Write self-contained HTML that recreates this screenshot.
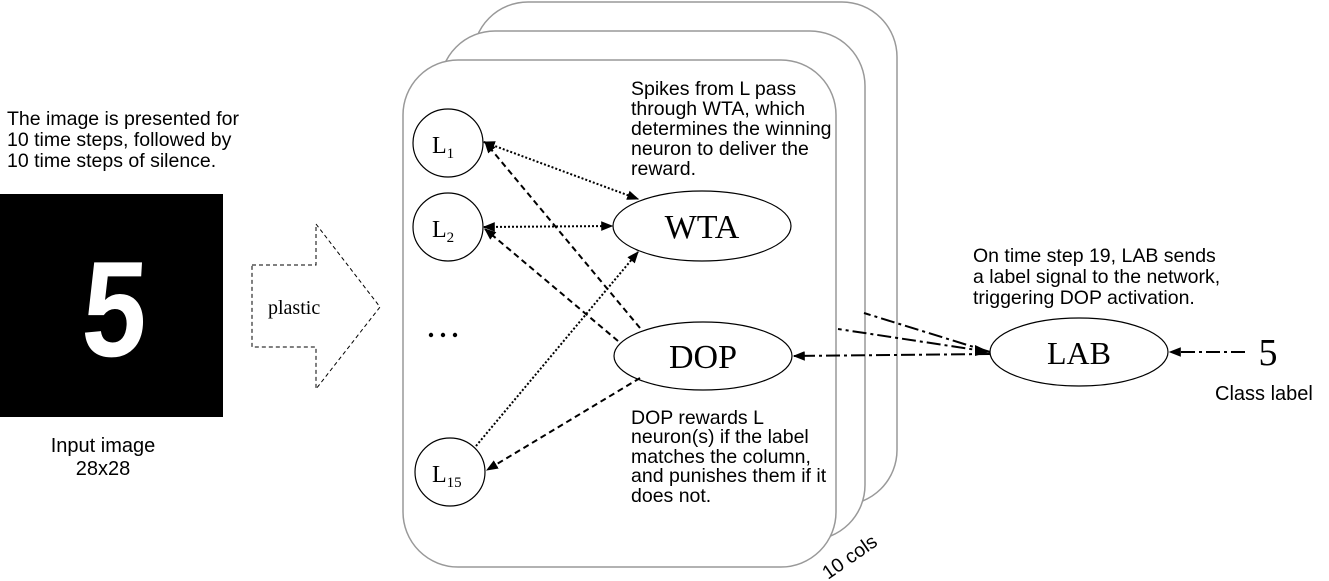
<!DOCTYPE html>
<html><head><meta charset="utf-8"><style>
html,body{margin:0;padding:0;background:#fff}
svg{display:block}
.s{font-family:"Liberation Sans",sans-serif;font-size:19.5px;fill:#000}
.r{font-family:"Liberation Serif",serif;fill:#000}
</style></head><body>
<svg width="1329" height="581" viewBox="0 0 1329 581" xmlns="http://www.w3.org/2000/svg">
<defs>
<marker id="a" viewBox="0 0 10 10" refX="9" refY="5" markerWidth="6" markerHeight="6" orient="auto-start-reverse"><path d="M0,1 L10,5 L0,9 z" fill="#000"/></marker>
</defs>
<!-- left text -->
<text class="s" x="7" y="125">The image is presented for</text>
<text class="s" x="7" y="146">10 time steps, followed by</text>
<text class="s" x="7" y="167">10 time steps of silence.</text>
<rect x="0" y="194" width="223" height="223" fill="#000"/>
<text x="0" y="0" font-family="Liberation Sans,sans-serif" font-weight="bold" font-size="136" fill="#fff" transform="translate(80,356) scale(0.85,1) skewX(-4)">5</text>
<text class="s" x="103" y="452" text-anchor="middle" style="font-size:20px">Input image</text>
<text class="s" x="103" y="475" text-anchor="middle" style="font-size:20px">28x28</text>
<!-- plastic arrow -->
<path d="M252,265 L316,265 L316,224 L380,307 L316,389 L316,347 L252,347 Z" fill="none" stroke="#000" stroke-width="1" stroke-dasharray="4,3"/>
<text class="r" x="268" y="314" font-size="20">plastic</text>
<!-- cards -->
<rect x="473" y="2" width="424" height="503" rx="55" fill="#fff" stroke="#999" stroke-width="1.5"/>
<rect x="440" y="31" width="425" height="509" rx="55" fill="#fff" stroke="#999" stroke-width="1.5"/>
<rect x="403" y="60" width="433" height="507" rx="55" fill="#fff" stroke="#999" stroke-width="1.5"/>
<text class="s" transform="translate(828,580) rotate(-35)">10 cols</text>
<!-- nodes -->
<g fill="#fff" stroke="#000" stroke-width="1.2">
<ellipse cx="448" cy="143" rx="35" ry="34"/>
<ellipse cx="448" cy="227" rx="35" ry="34"/>
<ellipse cx="450" cy="472" rx="35" ry="34"/>
<ellipse cx="702" cy="226" rx="89" ry="35"/>
<ellipse cx="703" cy="356" rx="89" ry="34"/>
<ellipse cx="1079" cy="352" rx="89" ry="34"/>
</g>
<text class="r" x="432" y="153" font-size="24">L<tspan font-size="15" dy="5">1</tspan></text>
<text class="r" x="432" y="237" font-size="24">L<tspan font-size="15" dy="5">2</tspan></text>
<text class="r" x="432" y="482" font-size="24">L<tspan font-size="15" dy="5">15</tspan></text>
<g fill="#000"><circle cx="431" cy="335" r="2.2"/><circle cx="443" cy="335" r="2.2"/><circle cx="455" cy="335" r="2.2"/></g>
<text class="r" x="702" y="238" font-size="34" text-anchor="middle">WTA</text>
<text class="r" x="703" y="368" font-size="34" text-anchor="middle">DOP</text>
<text class="r" x="1079" y="364" font-size="32" text-anchor="middle">LAB</text>
<text class="r" x="1268" y="365" font-size="38" text-anchor="middle">5</text>
<text class="s" x="1215" y="400" style="font-size:20px">Class label</text>
<!-- texts -->
<text class="s" x="631" y="95">Spikes from L pass</text>
<text class="s" x="631" y="115">through WTA, which</text>
<text class="s" x="631" y="135">determines the winning</text>
<text class="s" x="631" y="155">neuron to deliver the</text>
<text class="s" x="631" y="175">reward.</text>
<text class="s" x="631" y="424">DOP rewards L</text>
<text class="s" x="631" y="443">neuron(s) if the label</text>
<text class="s" x="631" y="463">matches the column,</text>
<text class="s" x="631" y="482">and punishes them if it</text>
<text class="s" x="631" y="502">does not.</text>
<text class="s" x="973" y="262">On time step 19, LAB sends</text>
<text class="s" x="973" y="283">a label signal to the network,</text>
<text class="s" x="973" y="304">triggering DOP activation.</text>
<!-- connectors -->
<g fill="none" stroke="#000" stroke-width="2">
<line x1="484" y1="142" x2="638" y2="199" stroke-dasharray="2,2" marker-start="url(#a)" marker-end="url(#a)"/>
<line x1="484" y1="227" x2="612" y2="226" stroke-dasharray="2,2" marker-start="url(#a)" marker-end="url(#a)"/>
<line x1="476" y1="446" x2="638" y2="252" stroke-dasharray="2,2" marker-end="url(#a)"/>
<line x1="640" y1="328" x2="485" y2="142" stroke-dasharray="6,4" marker-end="url(#a)"/>
<line x1="618" y1="341" x2="485" y2="229" stroke-dasharray="6,4" marker-end="url(#a)"/>
<line x1="640" y1="378" x2="487" y2="470" stroke-dasharray="6,4" marker-end="url(#a)"/>
<line x1="990" y1="354" x2="794" y2="356" stroke-dasharray="14,4,3,4" marker-end="url(#a)"/>
<line x1="990" y1="352" x2="864" y2="313" stroke-dasharray="14,4,3,4"/>
<line x1="990" y1="352" x2="838" y2="329" stroke-dasharray="14,4,3,4"/>
<line x1="1245" y1="352" x2="1170" y2="352" stroke-dasharray="14,4,3,4" marker-end="url(#a)"/>
</g>
<path d="M975,345 L990,352 L975,356 z" fill="#000"/>
</svg>
</body></html>
